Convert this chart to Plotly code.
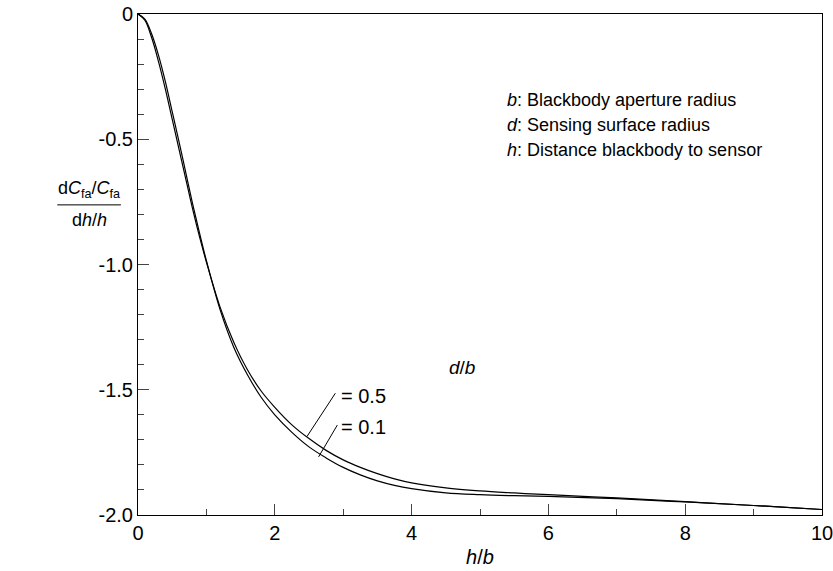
import plotly.graph_objects as go

# h/b values
x_vals = [0, 0.1, 0.2, 0.3, 0.4, 0.5, 0.6, 0.7, 0.8, 0.9, 1.0, 1.2, 1.4, 1.6, 1.8,
          2.0, 2.25, 2.5, 2.75, 3.0, 3.25, 3.5, 3.75, 4.0, 4.5, 5.0, 5.5, 6.0, 7.0, 8.0, 9.0, 10.0]
# dCfa/Cfa / (dh/h) for d/b = 0.5
y_d05 = [0, -0.025, -0.095, -0.19, -0.30, -0.42, -0.54, -0.66, -0.78, -0.89, -0.99,
         -1.17, -1.31, -1.42, -1.505, -1.57, -1.64, -1.695, -1.742, -1.78, -1.81, -1.835,
         -1.856, -1.872, -1.892, -1.904, -1.912, -1.919, -1.932, -1.947, -1.962, -1.978]
# dCfa/Cfa / (dh/h) for d/b = 0.1
y_d01 = [0, -0.02, -0.08, -0.165, -0.27, -0.39, -0.51, -0.635, -0.76, -0.875, -0.985,
         -1.18, -1.33, -1.44, -1.53, -1.60, -1.67, -1.728, -1.772, -1.81, -1.84, -1.864,
         -1.882, -1.895, -1.912, -1.919, -1.923, -1.926, -1.935, -1.948, -1.962, -1.978]

x_ticks = [0, 2, 4, 6, 8, 10]
x_ticklabels = ["0", "2", "4", "6", "8", "10"]
y_ticks = [0, -0.5, -1.0, -1.5, -2.0]
y_ticklabels = ["0", "-0.5", "-1.0", "-1.5", "-2.0"]

FONT = "Liberation Sans, Arial, sans-serif"

fig = go.Figure()
fig.add_trace(go.Scatter(x=x_vals, y=y_d05, mode="lines", line=dict(color="black", width=1.2, shape="spline"),
                         name="d/b = 0.5", showlegend=False, hoverinfo="skip"))
fig.add_trace(go.Scatter(x=x_vals, y=y_d01, mode="lines", line=dict(color="black", width=1.2, shape="spline"),
                         name="d/b = 0.1", showlegend=False, hoverinfo="skip"))

axis_common = dict(showgrid=False, zeroline=False, showline=True, linecolor="black", linewidth=1,
                   mirror=True, ticks="inside", ticklen=11, tickwidth=1, tickcolor="#444",
                   automargin=False, ticklabeloverflow="allow",
                   tickfont=dict(family=FONT, size=20, color="black"))

fig.update_xaxes(range=[0, 10], tickvals=x_ticks, ticktext=x_ticklabels,
                 minor=dict(dtick=1, ticks="inside", ticklen=6, tickcolor="#444", tickwidth=1),
                 title=dict(text="<i>h</i>/<i>b</i>", font=dict(family=FONT, size=20, color="black"), standoff=6),
                 **axis_common)
fig.update_yaxes(range=[-2, 0], tickvals=y_ticks, ticktext=y_ticklabels,
                 minor=dict(dtick=0.1, ticks="inside", ticklen=6, tickcolor="#444", tickwidth=1),
                 **axis_common)

# y-axis title as a fraction (between -0.5 and -1.0 ticks)
fig.add_annotation(xref="paper", yref="paper", x=-0.071, y=0.649,
                   text="d<i>C</i><sub>fa</sub>/<i>C</i><sub>fa</sub>",
                   showarrow=False, font=dict(family=FONT, size=18, color="black"), xanchor="center", yanchor="middle")
fig.add_annotation(xref="paper", yref="paper", x=-0.071, y=0.589, text="d<i>h</i>/<i>h</i>",
                   showarrow=False, font=dict(family=FONT, size=18, color="black"), xanchor="center", yanchor="middle")
fig.add_shape(type="line", xref="paper", yref="paper", x0=-0.118, x1=-0.025, y0=0.619, y1=0.619,
              line=dict(color="black", width=1))

# info text
info = ["<i>b</i>: Blackbody aperture radius",
        "<i>d</i>: Sensing surface radius",
        "<i>h</i>: Distance blackbody to sensor"]
info_y = [-0.343, -0.443, -0.543]
for t, yy in zip(info, info_y):
    fig.add_annotation(x=5.37, y=yy, text=t, showarrow=False, xanchor="left", yanchor="middle",
                       font=dict(family=FONT, size=18, color="black"))

# d/b label and leaders
fig.add_annotation(x=4.74, y=-1.413, text="<i>d</i>/<i>b</i>", showarrow=False,
                   font=dict(family=FONT, size=19, color="black"))
labels = ["= 0.5", "= 0.1"]
label_pos = [(2.94, -1.524), (2.94, -1.647)]
leader_end = [(2.885, -1.514), (2.914, -1.641)]
leader_start = [(2.47, -1.687), (2.64, -1.768)]
for lab, (lx, ly), (ex, ey), (sx, sy) in zip(labels, label_pos, leader_end, leader_start):
    fig.add_annotation(x=lx, y=ly, text=lab, showarrow=False, xanchor="left", yanchor="middle",
                       font=dict(family=FONT, size=20, color="black"))
    fig.add_shape(type="line", x0=sx, y0=sy, x1=ex, y1=ey, line=dict(color="black", width=1))

fig.update_layout(width=833, height=571, margin=dict(l=138, r=11, t=14, b=56),
                  plot_bgcolor="white", paper_bgcolor="white",
                  font=dict(family=FONT, color="black"))

fig.write_html("out.html", config={"displayModeBar": False},
               post_script="document.body.style.margin='0';document.body.style.overflow='hidden';")
